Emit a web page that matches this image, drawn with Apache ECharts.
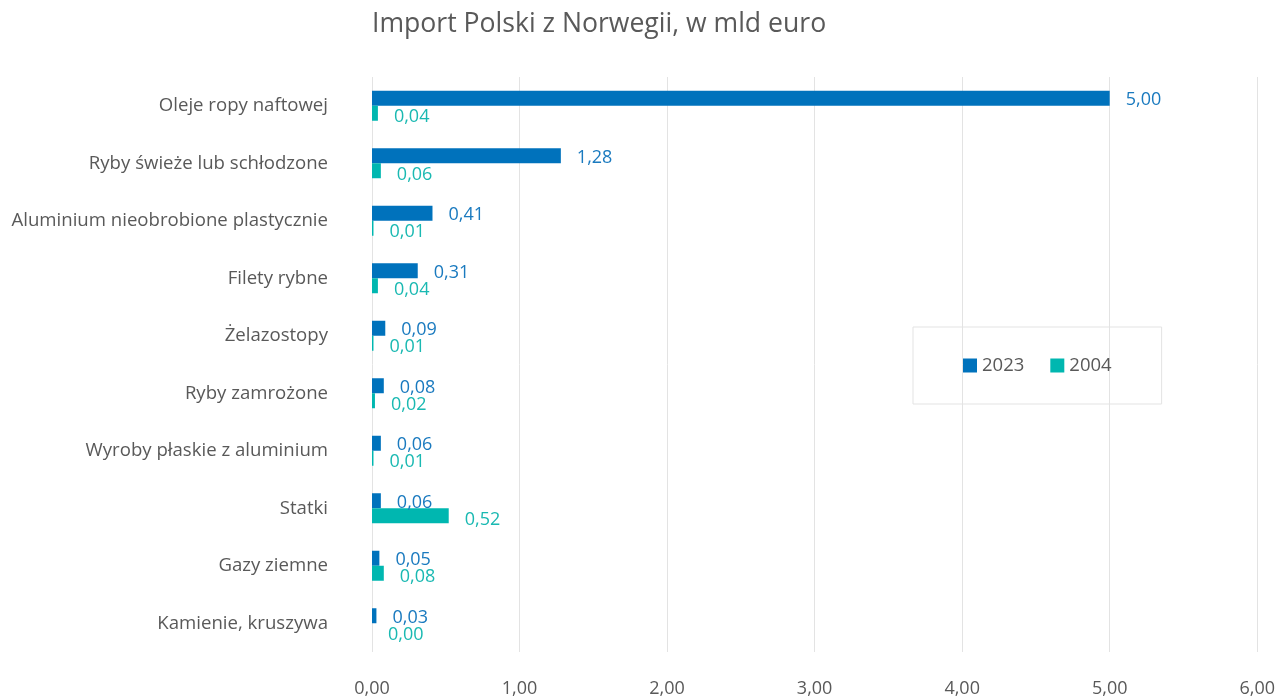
<!DOCTYPE html>
<html>
<head>
<meta charset="utf-8">
<script src="https://cdn.jsdelivr.net/npm/echarts@6/dist/echarts.min.js"></script>
<style>
  html, body { margin: 0; padding: 0; background: #fff; }
  #chart { width: 1278px; height: 700px; }
</style>
</head>
<body>
<div id="chart"></div>
<script>
// kategorie od góry do dołu
var categories = [
  'Oleje ropy naftowej',
  'Ryby świeże lub schłodzone',
  'Aluminium nieobrobione plastycznie',
  'Filety rybne',
  'Żelazostopy',
  'Ryby zamrożone',
  'Wyroby płaskie z aluminium',
  'Statki',
  'Gazy ziemne',
  'Kamienie, kruszywa'
];
var values2023 = [5.00, 1.28, 0.41, 0.31, 0.09, 0.08, 0.06, 0.06, 0.05, 0.03];
var values2004 = [0.04, 0.06, 0.01, 0.04, 0.01, 0.02, 0.01, 0.52, 0.08, 0.00];

var font = '"Open Sans", "Noto Sans", sans-serif';
var blue = '#0072bc';
var teal = '#00b7b0';

function fmt(v) {
  return v.toFixed(2).replace('.', ',');
}

var chart = echarts.init(document.getElementById('chart'));
chart.setOption({
  animation: false,
  title: {
    text: 'Import Polski z Norwegii, w mld euro',
    left: 367,
    top: 6,
    textStyle: { fontFamily: font, fontSize: 26.6, fontWeight: 'normal', color: '#595959' }
  },
  legend: {
    left: 913,
    top: 327,
    padding: [29, 50, 29, 50],
    borderColor: '#e3e3e3',
    borderWidth: 1,
    itemWidth: 14,
    itemHeight: 14,
    itemGap: 26,
    icon: 'rect',
    textStyle: { fontFamily: font, fontSize: 18.5, color: '#595959' },
    data: ['2023', '2004']
  },
  grid: { left: 372, right: 20, top: 77, bottom: 48, containLabel: false },
  xAxis: {
    type: 'value',
    min: 0,
    max: 6,
    interval: 1,
    axisLine: { show: false },
    axisTick: { show: false },
    splitLine: { lineStyle: { color: '#e3e3e3', width: 1 } },
    axisLabel: {
      margin: 28,
      fontFamily: font,
      fontSize: 18,
      color: '#595959',
      formatter: function (v) { return fmt(v); }
    }
  },
  yAxis: {
    type: 'category',
    inverse: true,
    data: categories,
    axisLine: { show: false },
    axisTick: { show: false },
    axisLabel: { margin: 44, padding: [4, 0, 0, 0], fontFamily: font, fontSize: 18.6, color: '#595959' }
  },
  series: [
    {
      name: '2023',
      type: 'bar',
      data: values2023,
      barWidth: 15,
      barGap: '0%',
      itemStyle: { color: blue },
      label: {
        show: true,
        position: 'right',
        distance: 16,
        offset: [0, 2],
        fontFamily: font,
        fontSize: 18,
        color: '#1a7abf',
        formatter: function (p) { return fmt(p.value); }
      }
    },
    {
      name: '2004',
      type: 'bar',
      data: values2004,
      barWidth: 15,
      itemStyle: { color: teal },
      label: {
        show: true,
        position: 'right',
        distance: 16,
        offset: [0, 4],
        fontFamily: font,
        fontSize: 18,
        color: '#1ab9b2',
        formatter: function (p) { return fmt(p.value); }
      }
    }
  ]
});
</script>
</body>
</html>
